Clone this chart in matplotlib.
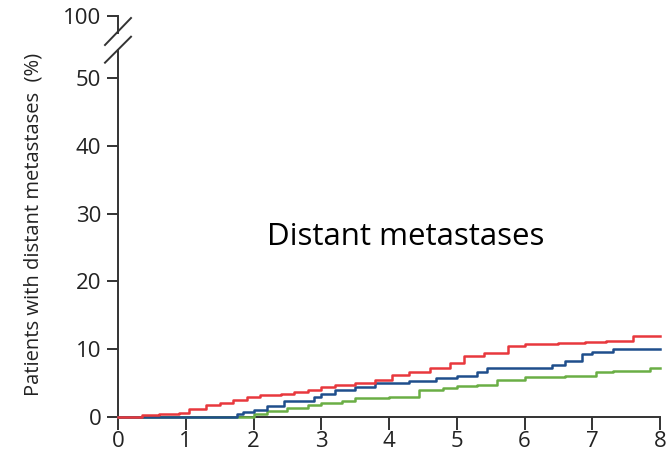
import matplotlib.pyplot as plt
from matplotlib.lines import Line2D

# cumulative incidence (%), step points
red_t = [0, 0.35, 0.6, 0.9, 1.05, 1.3, 1.5, 1.7, 1.9, 2.1, 2.4, 2.6, 2.8, 3.0, 3.2,
         3.5, 3.8, 4.05, 4.3, 4.6, 4.9, 5.1, 5.4, 5.75, 6.0, 6.5, 6.9, 7.2, 7.6, 8.0]
red_v = [0, 0.3, 0.5, 0.6, 1.2, 1.7, 2.1, 2.5, 3.0, 3.2, 3.4, 3.7, 4.0, 4.4, 4.7,
         5.0, 5.4, 6.2, 6.6, 7.2, 8.0, 9.0, 9.5, 10.4, 10.8, 10.9, 11.1, 11.2, 12.0, 12.0]

blue_t = [0, 1.75, 1.85, 2.0, 2.2, 2.45, 2.9, 3.0, 3.2, 3.5, 3.8, 4.3, 4.7, 5.0,
          5.3, 5.45, 6.0, 6.4, 6.6, 6.85, 7.0, 7.3, 8.0]
blue_v = [0, 0.5, 0.8, 1.0, 1.6, 2.4, 3.0, 3.4, 4.0, 4.4, 5.0, 5.3, 5.7, 6.0,
          6.6, 7.3, 7.3, 7.7, 8.2, 9.3, 9.6, 10.0, 10.0]

green_t = [0, 2.0, 2.2, 2.5, 2.8, 3.0, 3.3, 3.5, 4.0, 4.45, 4.8, 5.0, 5.3, 5.6,
           6.0, 6.6, 7.05, 7.3, 7.85, 8.0]
green_v = [0, 0.4, 0.9, 1.3, 1.7, 2.0, 2.4, 2.8, 2.9, 4.0, 4.3, 4.5, 4.7, 5.5,
           5.9, 6.1, 6.6, 6.8, 7.2, 7.2]

x_ticks = [0, 1, 2, 3, 4, 5, 6, 7, 8]
y_ticks = [0, 10, 20, 30, 40, 50]

plt.rcParams["font.family"] = ["Open Sans", "DejaVu Sans"]
W, H = 672, 455
fig = plt.figure(figsize=(W / 100, H / 100), dpi=100)

axis_color = "#333333"
text_color = "#222222"
lw = 1.4

# main axes: 0..~54
x0, x1 = 118, 660
yb, yt = 417, 50
ax = fig.add_axes([x0 / W, 1 - yb / H, (x1 - x0) / W, (yb - yt) / H])
ax.set_xlim(0, 8)
ax.set_ylim(0, (yb - yt) / 6.78)

for t, v, c in [(green_t, green_v, "#6aae45"),
                (blue_t, blue_v, "#1f4e8c"),
                (red_t, red_v, "#e8383d")]:
    ax.step(t, v, where="post", color=c, lw=1.8, zorder=3, clip_on=False)

for s in ["top", "right"]:
    ax.spines[s].set_visible(False)
for s in ["left", "bottom"]:
    ax.spines[s].set_color(axis_color)
    ax.spines[s].set_linewidth(lw)
ax.set_xticks(x_ticks)
ax.set_yticks(y_ticks)
ax.tick_params(axis="both", color=axis_color, width=lw, labelsize=16,
               labelcolor=text_color)
ax.tick_params(axis="y", length=8, pad=4)
ax.tick_params(axis="x", length=9, pad=1)
ax.set_ylabel("Patients with distant metastases  (%)", fontsize=14.5,
              color=text_color)
ax.yaxis.set_label_coords((44 - x0) / (x1 - x0), 0.524)

ax.text(0.53, 0.49, "Distant metastases", transform=ax.transAxes,
        ha="center", va="center", fontsize=22.5, color="black")

# small top axes holding the 100 tick above the break
yt2, yb2 = 15.7, 33
ax2 = fig.add_axes([x0 / W, 1 - yb2 / H, 0.05, (yb2 - yt2) / H])
ax2.set_ylim(97, 100)
ax2.set_yticks([100])
ax2.set_xticks([])
for s in ["top", "right", "bottom"]:
    ax2.spines[s].set_visible(False)
ax2.spines["left"].set_color(axis_color)
ax2.spines["left"].set_linewidth(lw)
ax2.patch.set_alpha(0)
ax2.tick_params(axis="y", color=axis_color, width=lw, length=8, pad=4,
                labelsize=16, labelcolor=text_color)

# break marks
for ya, yb_ in [(45, 18), (62.7, 36.7)]:
    fig.add_artist(Line2D([105 / W, 131 / W], [1 - ya / H, 1 - yb_ / H],
                          color=axis_color, lw=lw))

fig.savefig("out.png", dpi=100)
